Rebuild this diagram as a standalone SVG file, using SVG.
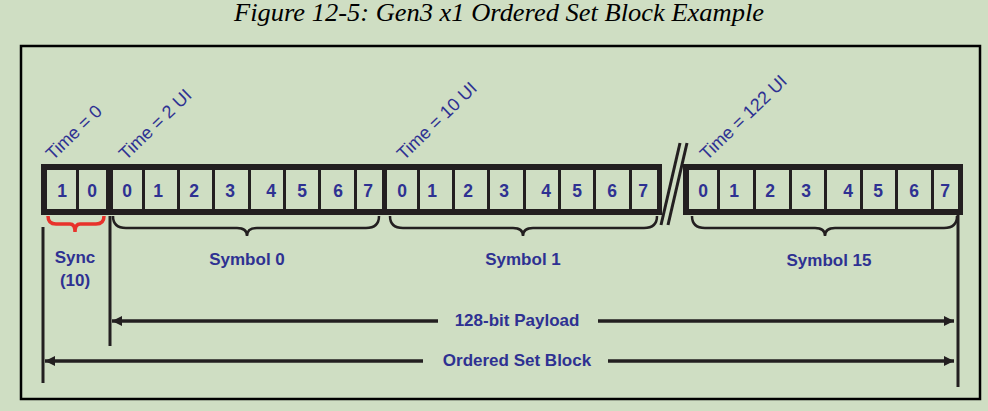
<svg xmlns="http://www.w3.org/2000/svg" width="988" height="411" viewBox="0 0 988 411">
<defs>
<style>
.bg{fill:#cfdec3}
.frame{fill:none;stroke:#000;stroke-width:2.5}
.bar{fill:#231f20}
.cell{fill:#cfdec3}
.dig{font-family:"Liberation Sans",Arial,sans-serif;font-weight:bold;font-size:17.5px;fill:#2e3192;text-anchor:middle}
.time{font-family:"Liberation Sans",Arial,sans-serif;font-size:18px;fill:#2e3192}
.lbl{font-family:"Liberation Sans",Arial,sans-serif;font-weight:bold;font-size:17px;fill:#2e3192;text-anchor:middle}
.title{font-family:"Liberation Serif","Times New Roman",serif;font-style:italic;font-size:25px;fill:#000;text-anchor:middle}
.brace{fill:none;stroke:#231f20;stroke-width:2.5}
.rbrace{fill:none;stroke:#e8322b;stroke-width:3.5}
.vline{stroke:#231f20;stroke-width:3;fill:none}
.arr{stroke:#231f20;stroke-width:3.5;fill:none}
.slash{stroke:#231f20;stroke-width:3;fill:none}
</style>
<marker id="ah" markerWidth="10" markerHeight="10" refX="10" refY="5" orient="auto-start-reverse" markerUnits="userSpaceOnUse">
<path d="M0,0 L10,5 L0,10 Z" fill="#231f20"/>
</marker>
</defs>
<rect class="bg" x="0" y="0" width="988" height="411"/>
<text class="title" x="499" y="21" textLength="530" lengthAdjust="spacingAndGlyphs">Figure 12-5: Gen3 x1 Ordered Set Block Example</text>
<rect class="frame" x="21" y="46" width="959" height="353"/>

<g id="bar-main">
<rect class="bar" x="41" y="164" width="621" height="51"/>
<rect class="cell" x="47" y="170" width="29" height="39"/>
<rect class="cell" x="79" y="170" width="27" height="39"/>
<rect class="cell" x="113" y="170" width="29" height="39"/>
<rect class="cell" x="145" y="170" width="32" height="39"/>
<rect class="cell" x="180" y="170" width="32" height="39"/>
<rect class="cell" x="215" y="170" width="33" height="39"/>
<rect class="cell" x="251" y="170" width="32" height="39"/>
<rect class="cell" x="286" y="170" width="32" height="39"/>
<rect class="cell" x="321" y="170" width="33" height="39"/>
<rect class="cell" x="357" y="170" width="25" height="39"/>
<rect class="cell" x="387" y="170" width="30" height="39"/>
<rect class="cell" x="420" y="170" width="32" height="39"/>
<rect class="cell" x="455" y="170" width="32" height="39"/>
<rect class="cell" x="490" y="170" width="33" height="39"/>
<rect class="cell" x="526" y="170" width="32" height="39"/>
<rect class="cell" x="561" y="170" width="32" height="39"/>
<rect class="cell" x="596" y="170" width="33" height="39"/>
<rect class="cell" x="632" y="170" width="25" height="39"/>
<text class="dig" x="62" y="197">1</text>
<text class="dig" x="92" y="197">0</text>
<text class="dig" x="127" y="197">0</text>
<text class="dig" x="158" y="197">1</text>
<text class="dig" x="194" y="197">2</text>
<text class="dig" x="230" y="197">3</text>
<text class="dig" x="271" y="197">4</text>
<text class="dig" x="302" y="197">5</text>
<text class="dig" x="338" y="197">6</text>
<text class="dig" x="368" y="197">7</text>
<text class="dig" x="402" y="197">0</text>
<text class="dig" x="432" y="197">1</text>
<text class="dig" x="468" y="197">2</text>
<text class="dig" x="504" y="197">3</text>
<text class="dig" x="546" y="197">4</text>
<text class="dig" x="577" y="197">5</text>
<text class="dig" x="612" y="197">6</text>
<text class="dig" x="643" y="197">7</text>
</g>

<g id="bar-sym15">
<rect class="bar" x="683" y="164" width="280" height="51"/>
<rect class="cell" x="689" y="170" width="28" height="39"/>
<rect class="cell" x="720" y="170" width="33" height="39"/>
<rect class="cell" x="756" y="170" width="33" height="39"/>
<rect class="cell" x="792" y="170" width="32" height="39"/>
<rect class="cell" x="827" y="170" width="33" height="39"/>
<rect class="cell" x="863" y="170" width="32" height="39"/>
<rect class="cell" x="898" y="170" width="33" height="39"/>
<rect class="cell" x="934" y="170" width="24" height="39"/>
<text class="dig" x="703" y="197">0</text>
<text class="dig" x="734" y="197">1</text>
<text class="dig" x="770" y="197">2</text>
<text class="dig" x="806" y="197">3</text>
<text class="dig" x="848" y="197">4</text>
<text class="dig" x="878" y="197">5</text>
<text class="dig" x="914" y="197">6</text>
<text class="dig" x="945" y="197">7</text>
</g>

<g id="break">
<line class="slash" x1="661" y1="225" x2="680" y2="143"/>
<line class="slash" x1="668" y1="225" x2="687" y2="143"/>
</g>

<g id="time-labels">
<text class="time" transform="translate(53,161) rotate(-44)">Time = 0</text>
<text class="time" transform="translate(126,161) rotate(-44)">Time = 2 UI</text>
<text class="time" transform="translate(404,161) rotate(-44)">Time = 10 UI</text>
<text class="time" transform="translate(707,161) rotate(-44)">Time = 122 UI</text>
</g>

<g id="sync">
<path class="rbrace" d="M48,216 Q48,224 56,224 L70,224 Q75,224 75,232 Q75,224 80,224 L96,224 Q104,224 104,216"/>
<text class="lbl" x="75" y="263">Sync</text>
<text class="lbl" x="75" y="286">(10)</text>
</g>

<g id="symbol0">
<path class="brace" d="M113,216 Q113,228 126,228 L237,228 Q247,228 247,236 Q247,228 257,228 L366,228 Q379,228 379,216"/>
<text class="lbl" x="247" y="265">Symbol 0</text>
</g>

<g id="symbol1">
<path class="brace" d="M390,216 Q390,228 403,228 L513,228 Q523,228 523,236 Q523,228 533,228 L644,228 Q657,228 657,216"/>
<text class="lbl" x="523" y="265">Symbol 1</text>
</g>

<g id="symbol15">
<path class="brace" d="M692,216 Q692,228 705,228 L815,228 Q825,228 825,236 Q825,228 835,228 L944,228 Q957,228 957,216"/>
<text class="lbl" x="829" y="266">Symbol 15</text>
</g>

<g id="connectors">
<line class="vline" x1="43" y1="227" x2="43" y2="383"/>
<line class="vline" x1="110" y1="216" x2="110" y2="346"/>
<line class="vline" x1="958" y1="215" x2="958" y2="387"/>
<line class="arr" x1="438" y1="321" x2="112" y2="321" marker-end="url(#ah)"/>
<line class="arr" x1="598" y1="321" x2="954" y2="321" marker-end="url(#ah)"/>
<line class="arr" x1="423" y1="361" x2="45" y2="361" marker-end="url(#ah)"/>
<line class="arr" x1="608" y1="361" x2="954" y2="361" marker-end="url(#ah)"/>
</g>
<g id="arrow-labels">
<text class="lbl" x="517" y="326">128-bit Payload</text>
<text class="lbl" x="517" y="366">Ordered Set Block</text>
</g>
</svg>
